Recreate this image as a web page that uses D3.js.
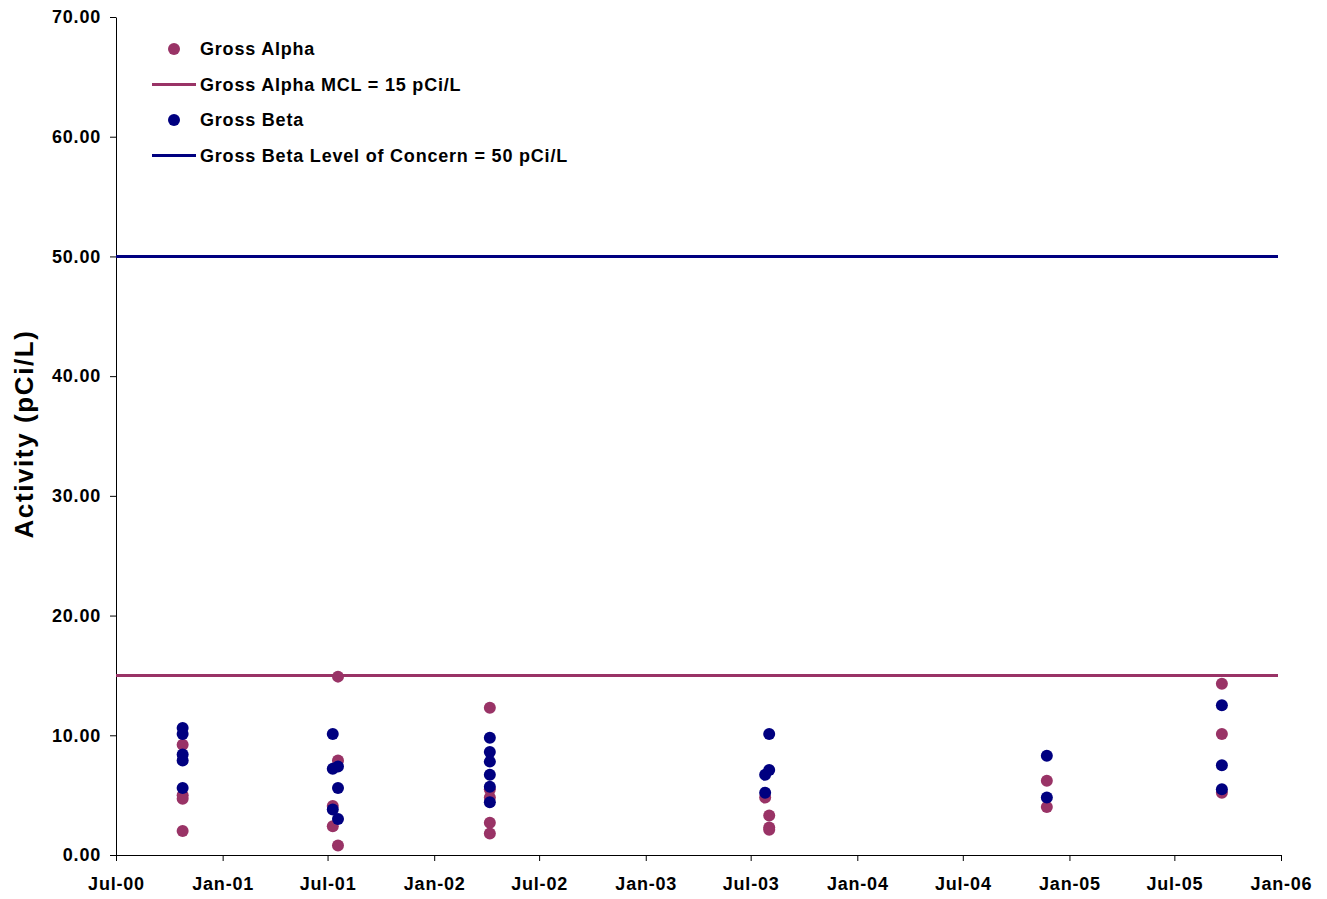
<!DOCTYPE html>
<html>
<head>
<meta charset="utf-8">
<script src="https://cdn.jsdelivr.net/npm/d3@7"></script>
<style>
  body { margin: 0; background: #fff; }
  text { font-family: "Liberation Sans", Arial, sans-serif; font-weight: bold; fill: #000; }
</style>
</head>
<body>
<div id="chart"></div>
<script>
// sample dates and activities (pCi/L)
var alphaDates = ['2000-10-24','2000-10-24','2000-10-24','2000-10-24',
    '2001-07-10','2001-07-10','2001-07-19','2001-07-19','2001-07-19',
    '2002-04-07','2002-04-07','2002-04-07','2002-04-07','2002-04-07',
    '2003-07-26','2003-08-02','2003-08-02','2003-08-02',
    '2004-11-23','2004-11-23',
    '2005-09-21','2005-09-21','2005-09-21'];
var alphaValues = [9.2, 5.0, 4.7, 2.0,
    4.1, 2.4, 14.9, 7.9, 0.8,
    12.3, 5.5, 4.8, 2.7, 1.8,
    4.8, 3.3, 2.3, 2.1,
    6.2, 4.0,
    14.3, 10.1, 5.2];

var betaDates = ['2000-10-24','2000-10-24','2000-10-24','2000-10-24','2000-10-24',
    '2001-07-10','2001-07-10','2001-07-10','2001-07-19','2001-07-19','2001-07-19',
    '2002-04-07','2002-04-07','2002-04-07','2002-04-07','2002-04-07','2002-04-07',
    '2003-07-26','2003-07-26','2003-08-02','2003-08-02',
    '2004-11-23','2004-11-23',
    '2005-09-21','2005-09-21','2005-09-21'];
var betaValues = [10.6, 10.1, 8.4, 7.9, 5.6,
    10.1, 7.2, 3.8, 7.4, 5.6, 3.0,
    9.8, 8.6, 7.8, 6.7, 5.7, 4.4,
    6.7, 5.2, 10.1, 7.1,
    8.3, 4.8,
    12.5, 7.5, 5.5];

var alphaMCL = 15, betaConcern = 50;
var yTicks = [0, 10, 20, 30, 40, 50, 60, 70];
var legendLabels = ['Gross Alpha', 'Gross Alpha MCL = 15 pCi/L', 'Gross Beta', 'Gross Beta Level of Concern = 50 pCi/L'];

var pink = '#993366', navy = '#000080';
var parse = d3.timeParse('%Y-%m-%d');

var svg = d3.select('#chart').append('svg')
    .attr('width', 1327)
    .attr('height', 899);

var x = d3.scaleTime()
    .domain([parse('2000-07-01'), parse('2006-01-01')])
    .range([116, 1281]);
var y = d3.scaleLinear().domain([0, 70]).range([855, 17]);

// axes
var xAxis = d3.axisBottom(x)
    .ticks(d3.timeMonth.every(6))
    .tickFormat(d3.timeFormat('%b-%y'))
    .tickSizeOuter(0).tickSizeInner(6).tickPadding(16);
var gx = svg.append('g').attr('transform', 'translate(0,855)').call(xAxis);

var yAxis = d3.axisLeft(y).tickValues(yTicks).tickFormat(d3.format('.2f'))
    .tickSizeOuter(0).tickSizeInner(6).tickPadding(9);
var gy = svg.append('g').attr('transform', 'translate(116,0)').call(yAxis);

[gx, gy].forEach(function (g) {
    g.selectAll('path, line').attr('stroke', '#000').attr('stroke-width', 1);
    g.selectAll('text').style('font-size', '18px').style('letter-spacing', '0.8px').attr('fill', '#000');
});

svg.append('text')
    .attr('transform', 'translate(33,434) rotate(-90)')
    .attr('text-anchor', 'middle')
    .style('font-size', '26px')
    .style('letter-spacing', '1.6px')
    .text('Activity (pCi/L)');

// reference lines
svg.append('line')
    .attr('x1', x.range()[0]).attr('x2', x.range()[1] - 3)
    .attr('y1', y(alphaMCL)).attr('y2', y(alphaMCL))
    .attr('stroke', pink).attr('stroke-width', 3);
svg.append('line')
    .attr('x1', x.range()[0]).attr('x2', x.range()[1] - 3)
    .attr('y1', y(betaConcern)).attr('y2', y(betaConcern))
    .attr('stroke', navy).attr('stroke-width', 3);

// points
svg.append('g').selectAll('circle')
    .data(alphaValues)
    .enter().append('circle')
    .attr('cx', function (d, i) { return x(parse(alphaDates[i])); })
    .attr('cy', function (d) { return y(d); })
    .attr('r', 6)
    .attr('fill', pink);

svg.append('g').selectAll('circle')
    .data(betaValues)
    .enter().append('circle')
    .attr('cx', function (d, i) { return x(parse(betaDates[i])); })
    .attr('cy', function (d) { return y(d); })
    .attr('r', 6)
    .attr('fill', navy);

// legend
var legend = svg.append('g');
var legendRows = legend.selectAll('g')
    .data(legendLabels)
    .enter().append('g')
    .attr('transform', function (d, i) { return 'translate(0,' + (49 + i * 35.5) + ')'; });

legendRows.each(function (d, i) {
    var row = d3.select(this);
    var color = i < 2 ? pink : navy;
    if (i % 2 === 0) {
        row.append('circle').attr('cx', 174).attr('cy', 0).attr('r', 6).attr('fill', color);
    } else {
        row.append('line').attr('x1', 152).attr('x2', 196)
            .attr('stroke', color).attr('stroke-width', 3);
    }
    row.append('text')
        .attr('x', 200).attr('dy', '0.35em')
        .style('font-size', '18px')
        .style('letter-spacing', '0.8px')
        .text(d);
});
</script>
</body>
</html>
